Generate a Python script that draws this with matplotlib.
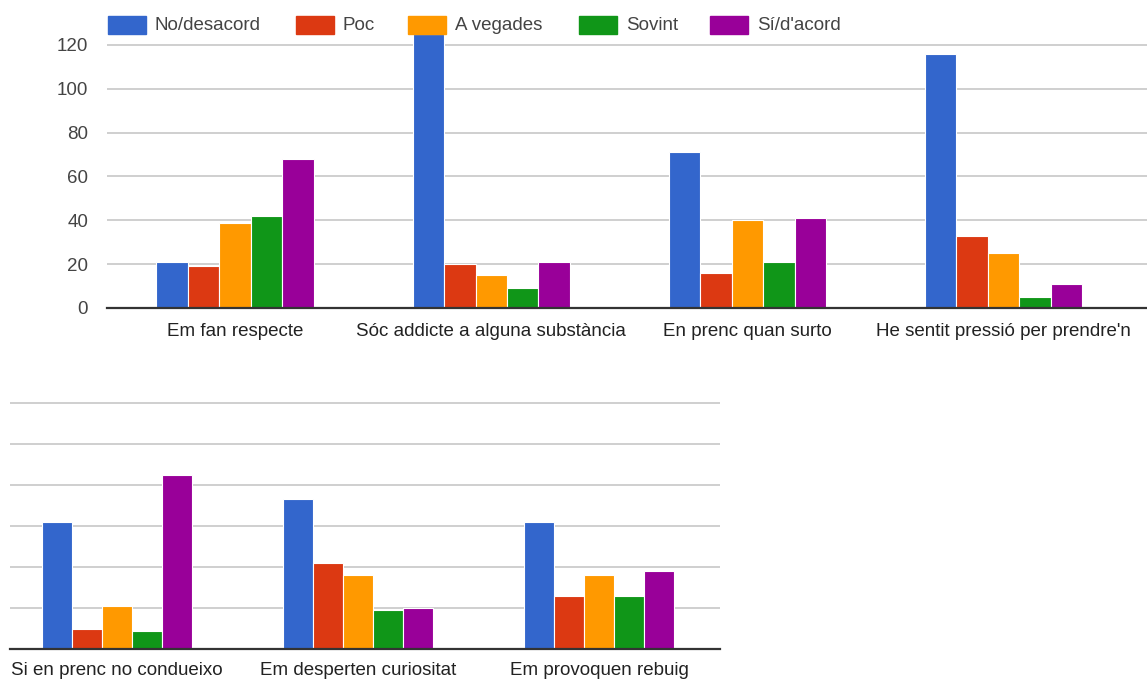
import numpy as np
import matplotlib.pyplot as plt
from matplotlib.patches import Rectangle

plt.rcParams['font.family'] = ['Liberation Sans', 'DejaVu Sans']

# Datos
series = ["No/desacord", "Poc", "A vegades", "Sovint", "Sí/d'acord"]
colors = ['#3366cc', '#dc3912', '#ff9900', '#109618', '#990099']

top_cats = ["Em fan respecte", "Sóc addicte a alguna substància",
            "En prenc quan surto", "He sentit pressió per prendre'n"]
top_no = [21, 125, 71, 116]
top_poc = [19, 20, 16, 33]
top_vegades = [39, 15, 40, 25]
top_sovint = [42, 9, 21, 5]
top_si = [68, 21, 41, 11]

bot_cats = ["Si en prenc no condueixo", "Em desperten curiositat", "Em provoquen rebuig"]
bot_no = [62, 73, 62]
bot_poc = [10, 42, 26]
bot_vegades = [21, 36, 36]
bot_sovint = [9, 19, 26]
bot_si = [85, 20, 38]

yticks = [0, 20, 40, 60, 80, 100, 120]

W, H = 1147, 681
fig = plt.figure(figsize=(W / 100, H / 100), dpi=100)
txt = '#444444'
fs = 13.5


def grouped(ax, cats, vals, slot):
    x = np.arange(len(cats))
    for i, (v, c) in enumerate(zip(vals, colors)):
        ax.bar(x + (i - 2) * slot, v, slot, color=c, edgecolor='white',
               linewidth=0.8, zorder=3)
    ax.set_xticks(x)
    ax.set_xticklabels(cats, fontsize=fs, color='#222222')
    ax.set_yticks(yticks)
    ax.grid(axis='y', color='#cccccc', linewidth=1.3, zorder=0)
    for s in ['top', 'right', 'left']:
        ax.spines[s].set_visible(False)
    ax.spines['bottom'].set_color('#333333')
    ax.spines['bottom'].set_linewidth(1.6)
    ax.spines['bottom'].set_zorder(4)
    ax.tick_params(axis='x', length=0, pad=10.5)
    ax.tick_params(axis='y', length=0, labelsize=fs, labelcolor=txt, pad=13.5)


# Gráfico de arriba
ax1 = fig.add_axes([107 / W, (H - 308) / H, 1040 / W, 126 * 2.192 / H])
grouped(ax1, top_cats, [top_no, top_poc, top_vegades, top_sovint, top_si], 0.1228)
ax1.set_ylim(0, 126)
ax1.set_xlim(-0.5, 3.56)

# Gráfico de abajo
ax2 = fig.add_axes([10 / W, (H - 649.3) / H, 710 / W, 121 * 2.055 / H])
grouped(ax2, bot_cats, [bot_no, bot_poc, bot_vegades, bot_sovint, bot_si], 0.1245)
ax2.set_ylim(0, 121)
ax2.set_xlim(-0.442, 2.5)
ax2.tick_params(axis='y', labelleft=False)
ax2.tick_params(axis='x', pad=9.5)

# Leyenda
leg_x = [108, 296, 408, 579, 710]
for lx, name, c in zip(leg_x, series, colors):
    fig.patches.append(Rectangle((lx / W, (H - 34) / H), 38 / W, 18 / H,
                                 transform=fig.transFigure, color=c))
    fig.text((lx + 47) / W, (H - 25) / H, name, fontsize=fs, color=txt,
             va='center', ha='left')

fig.savefig('out.png', dpi=100)
